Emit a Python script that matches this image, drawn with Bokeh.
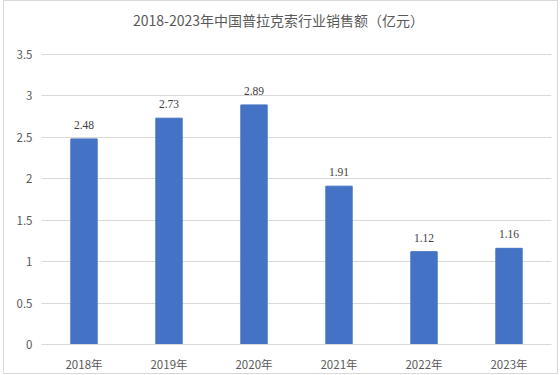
from bokeh.plotting import figure
from bokeh.models import FactorRange, Range1d, FixedTicker, CustomJSTickFormatter, ColumnDataSource, LabelSet
from bokeh.core.properties import value
from bokeh.embed import file_html
from bokeh.resources import INLINE

categories = ["2018年", "2019年", "2020年", "2021年", "2022年", "2023年"]
values = [2.48, 2.73, 2.89, 1.91, 1.12, 1.16]
y_ticks = [0, 0.5, 1, 1.5, 2, 2.5, 3, 3.5]
title_text = "2018-2023年中国普拉克索行业销售额（亿元）"

FONT = "Noto Sans CJK SC"
GREY = "#595959"

# layout (pixels)
FRAME_TOP = 9
FRAME_BOTTOM = 345
PX_PER_UNIT = 291 / 3.5
Y_END = (FRAME_BOTTOM - FRAME_TOP) / PX_PER_UNIT
TITLE_Y = (FRAME_BOTTOM - 20) / PX_PER_UNIT
TITLE_X = (278 - 41) / 85

src = ColumnDataSource(dict(cat=categories, val=values, lab=[f"{v:.2f}" for v in values]))

p = figure(x_range=FactorRange(*categories), y_range=Range1d(0, Y_END),
           width=555, height=374, output_backend="svg", toolbar_location=None,
           min_border_left=38, min_border_right=7, min_border_top=FRAME_TOP, min_border_bottom=26)
p.styles = {"box-shadow": "inset 0 0 0 1px #d9d9d9", "margin-left": "3px", "margin-top": "0px"}
p.border_fill_alpha = 0
p.outline_line_color = None
p.background_fill_color = "white"

p.vbar(x="cat", top="val", width=0.31, source=src, fill_color="#4472C4", line_color="#4472C4")

labels = LabelSet(x="cat", y="val", text="lab", source=src, text_align="center", text_baseline="middle",
                  y_offset=14, text_font_size="11.5px", text_color="#404040", text_font=FONT)
p.add_layout(labels)

p.text(x=[TITLE_X], y=[TITLE_Y], text=[title_text], text_align="center", text_baseline="middle",
       text_font=value(FONT), text_font_size="14px", text_color=GREY)

p.yaxis.ticker = FixedTicker(ticks=y_ticks)
p.yaxis.formatter = CustomJSTickFormatter(code="return tick.toString();")
p.yaxis.axis_line_color = None
p.yaxis.major_tick_line_color = None
p.yaxis.minor_tick_line_color = None
p.yaxis.major_tick_out = 0
p.yaxis.major_tick_in = 0
p.yaxis.major_label_text_color = GREY
p.yaxis.major_label_text_font_size = "11.5px"
p.yaxis.major_label_text_font = FONT
p.yaxis.major_label_standoff = 9

p.xaxis.axis_line_color = "#d9d9d9"
p.xaxis.major_tick_line_color = None
p.xaxis.minor_tick_line_color = None
p.xaxis.major_label_text_color = GREY
p.xaxis.major_label_text_font_size = "11.5px"
p.xaxis.major_label_text_font = FONT
p.xaxis.major_label_standoff = 5

p.xgrid.grid_line_color = None
p.ygrid.grid_line_color = "#d9d9d9"
p.ygrid.ticker = FixedTicker(ticks=y_ticks)

open("out.html", "w").write(file_html(p, INLINE))
